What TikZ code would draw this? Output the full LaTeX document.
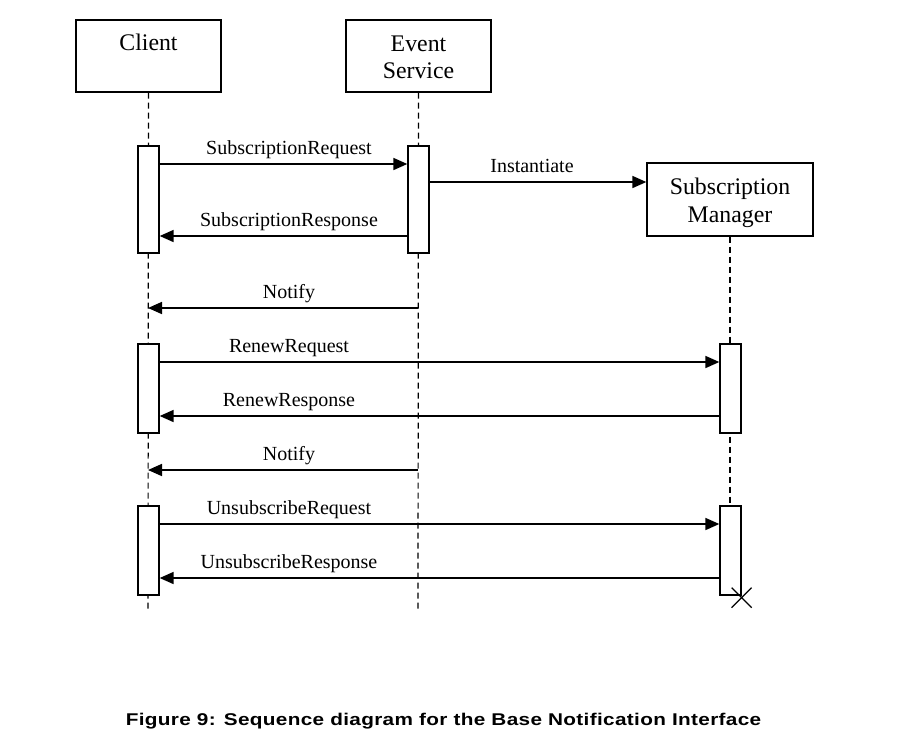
\documentclass[tikz,border=0pt]{standalone}
\usepackage{fontspec}
\setmainfont{Liberation Serif}
\newfontfamily\capfont[FakeStretch=1.22,LetterSpace=2]{Liberation Sans}
\usetikzlibrary{arrows.meta}
\begin{document}
\begin{tikzpicture}[x=1pt,y=-1pt,
  head/.style={draw,line width=1.3pt,fill=white,minimum width=145pt,minimum height=72pt,inner sep=0pt},
  headtxt/.style={anchor=base,inner sep=0pt,font=\fontsize{23.8}{27}\selectfont},
  act/.style={draw,line width=1.3pt,fill=white,minimum width=21pt,inner sep=0pt},
  life/.style={line width=1.2pt,dash pattern=on 6pt off 4pt},
  msg/.style={line width=1.7pt,-{Triangle[length=14pt,width=12pt]}},
  lbl/.style={anchor=base,inner sep=0pt,font=\fontsize{20}{24}\selectfont},
  capt/.style={anchor=base,inner sep=0pt,font=\capfont\bfseries\fontsize{17}{20}\selectfont}]
\useasboundingbox (0,0) rectangle (900,740);
% heads
\node[head] (client) at (148.5,56) {};
\node[head] (es) at (418.5,56) {};
\node[head,minimum width=166pt,minimum height=73pt] (sm) at (730,199.5) {};
\node[headtxt] (tclient) at (148.5,50) {Client};
\node[headtxt] (tes1) at (418.5,51) {Event};
\node[headtxt] (tes2) at (418.5,78) {Service};
\node[headtxt] (tsm1) at (730,194) {Subscription};
\node[headtxt] (tsm2) at (730,222) {Manager};
% lifeline ends
\coordinate (cend) at (148,610);
\coordinate (eend) at (418,610);
\coordinate (send) at (730,506);
\draw[life] (client.south) -- (cend);
\draw[life] (es.south) -- (eend);
\draw[life] (sm.south) -- (send);
% activations
\node[act,minimum height=107pt] (ca1) at (148.5,199.5) {};
\node[act,minimum height=89pt] (ca2) at (148.5,388.5) {};
\node[act,minimum height=89pt] (ca3) at (148.5,550.5) {};
\node[act,minimum height=107pt] (ea1) at (418.5,199.5) {};
\node[act,minimum height=89pt] (sa1) at (730.5,388.5) {};
\node[act,minimum height=89pt] (sa2) at (730.5,550.5) {};
% messages
\draw[msg] (ca1.east |- 0,164) -- (ea1.west |- 0,164);
\node[lbl] (l1) at (289,154) {SubscriptionRequest};
\draw[msg] (ea1.east |- 0,182) -- (sm.west |- 0,182);
\node[lbl] (l2) at (532,172) {Instantiate};
\draw[msg] (ea1.west |- 0,236) -- (ca1.east |- 0,236);
\node[lbl] (l3) at (289,226) {SubscriptionResponse};
\coordinate (n1s) at (418,308);
\coordinate (n1e) at (148,308);
\draw[msg] (n1s) -- (n1e);
\node[lbl] (l4) at (289,298) {Notify};
\draw[msg] (ca2.east |- 0,362) -- (sa1.west |- 0,362);
\node[lbl] (l5) at (289,352) {RenewRequest};
\draw[msg] (sa1.west |- 0,416) -- (ca2.east |- 0,416);
\node[lbl] (l6) at (289,406) {RenewResponse};
\coordinate (n2s) at (418,470);
\coordinate (n2e) at (148,470);
\draw[msg] (n2s) -- (n2e);
\node[lbl] (l7) at (289,460) {Notify};
\draw[msg] (ca3.east |- 0,524) -- (sa2.west |- 0,524);
\node[lbl] (l8) at (289,514) {UnsubscribeRequest};
\draw[msg] (sa2.west |- 0,578) -- (ca3.east |- 0,578);
\node[lbl] (l9) at (289,568) {UnsubscribeResponse};
% destruction
\coordinate (x) at ([yshift=-2pt]sa2.south east);
\draw[line width=1.3pt] ([shift={(-10,-10)}]x) -- ([shift={(10,10)}]x)
  ([shift={(-10,10)}]x) -- ([shift={(10,-10)}]x);
% caption
\node[capt] (cap) at (443.5,725) {Figure 9: Sequence diagram for the Base Notification Interface};
\end{tikzpicture}
\end{document}
